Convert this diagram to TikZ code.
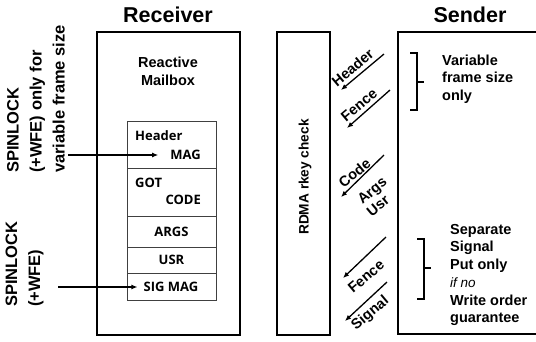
\documentclass[tikz,border=0pt]{standalone}
\usepackage{fontspec}
\setmainfont{Liberation Sans}
\newfontfamily\mbfont{Open Sans}
\usetikzlibrary{positioning,arrows.meta}

\begin{document}
\begin{tikzpicture}[x=1pt,y=-1pt,>={Latex[length=6pt,width=5pt]}]
    \tikzstyle{box}=[draw,line width=1.8pt,outer sep=0pt]
    \tikzstyle{row}=[draw=black!75,line width=0.8pt,minimum width=89pt,outer sep=0pt,inner sep=0pt,font=\mbfont\bfseries\fontsize{13}{15}\selectfont]
    \tikzstyle{mbtext}=[inner sep=1pt,font=\mbfont\bfseries\fontsize{13}{15}\selectfont]
    \tikzstyle{title}=[font=\bfseries\fontsize{21.5}{24}\selectfont]
    \tikzstyle{spin}=[rotate=90,align=left,inner sep=0pt,font=\bfseries\fontsize{16.5}{23}\selectfont]
    \tikzstyle{note}=[align=left,inner sep=0pt,font=\bfseries\fontsize{14.5}{17.7}\selectfont]
    \tikzstyle{put}=[->,line width=1.3pt]
    \tikzstyle{lbl}=[rotate=40,inner sep=0pt,font=\bfseries\fontsize{14.5}{17}\selectfont]
    \useasboundingbox (0,0) rectangle (536,341);
    % receiver side
    \node[title] (recvTitle) at (168,15) {Receiver};
    \node[box,minimum width=143pt,minimum height=303pt] (recv) at (168.5,183.5) {};
    \node[align=center,font=\bfseries\fontsize{14.5}{18}\selectfont] (mbTitle) at (168,71) {Reactive\\Mailbox};
    \node[row,minimum height=47pt] (mbHeader) at (171.5,144.5) {};
    \node[row,minimum height=48pt,below=0pt of mbHeader] (mbGot) {};
    \node[row,minimum height=31pt,below=0pt of mbGot] (mbArgs) {ARGS};
    \node[row,minimum height=26pt,below=0pt of mbArgs] (mbUsr) {USR};
    \node[row,minimum height=27pt,below=0pt of mbUsr] (mbSig) {};
    \node[mbtext,anchor=west] (hdr) at (134,136) {Header};
    \node[mbtext,anchor=east] (mag) at (202,155) {MAG};
    \node[mbtext,anchor=west] (got) at (134,183) {GOT};
    \node[mbtext,anchor=east] (code) at (202,200) {CODE};
    \node[mbtext] (sigmag) at (171,287) {SIG MAG};
    \node[spin,anchor=west] (spinVar) at (36,173) {SPINLOCK\\(+WFE) only for\\variable frame size};
    \node[spin,anchor=west] (spinSig) at (24.5,307) {SPINLOCK\\(+WFE)};
    \coordinate (spinA) at (68,155);
    \coordinate (spinB) at (58,287);
    \draw[put] (spinA) -- (mag.west) [shorten >=11pt];
    \draw[put] (spinB) -- (sigmag.west) [shorten >=5pt];
    % rdma and sender side
    \node[box,minimum width=53pt,minimum height=303pt] (rdma) at (303.5,183.5) {};
    \node[rotate=90,font=\bfseries\fontsize{13.7}{16}\selectfont] (rdmaTxt) at (305,177) {RDMA rkey check};
    \node[title] (sendTitle) at (470,15) {Sender};
    \draw[line width=1.8pt] (536,32) -- (398,32) -- (398,334) -- (536,334);
    \coordinate (h1) at (384,54);  \coordinate (h2) at (341,90);
    \coordinate (f1) at (390,90);  \coordinate (f2) at (347,128);
    \coordinate (c1) at (384,155); \coordinate (c2) at (341,197);
    \coordinate (g1) at (386,237); \coordinate (g2) at (343,278);
    \coordinate (s1) at (387,282); \coordinate (s2) at (345,321);
    \draw[put] (h1) -- (h2);
    \draw[put] (f1) -- (f2);
    \draw[put] (c1) -- (c2);
    \draw[put] (g1) -- (g2);
    \draw[put] (s1) -- (s2);
    \node[lbl] (lblHeader) at (352.5,67.5) {Header};
    \node[lbl] (lblFence) at (359,105) {Fence};
    \node[lbl] (lblCode) at (354.5,173) {Code};
    \node[lbl] (lblArgs) at (373,191.5) {Args};
    \node[lbl] (lblUsr) at (378,205.5) {Usr};
    \node[lbl] (lblFence2) at (366,276.5) {Fence};
    \node[lbl] (lblSignal) at (370.5,313.5) {Signal};
    \draw[line width=1.5pt] (410,53) -- (417,53) -- (417,110) -- (410,110) (417,82) -- (424,82);
    \draw[line width=1.5pt] (417,239) -- (424,239) -- (424,299) -- (417,299) (424,268) -- (431,268);
    \node[note,anchor=west] (varNote) at (442,79) {Variable\\frame size\\only};
    \node[note,anchor=west] (sigNote) at (450,275) {Separate\\Signal\\Put only\\{\normalfont\itshape\fontsize{13.5}{17.7}\selectfont if no}\\Write order\\guarantee};
\end{tikzpicture}
\end{document}
